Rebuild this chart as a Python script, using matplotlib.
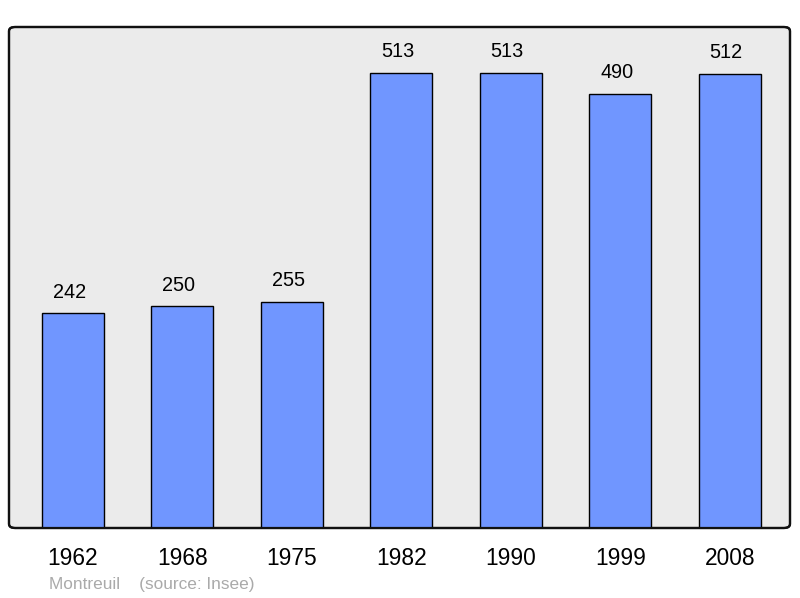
import matplotlib
matplotlib.use("Agg")
import matplotlib.pyplot as plt
from matplotlib.patches import FancyBboxPatch

years = ["1962", "1968", "1975", "1982", "1990", "1999", "2008"]
population = [242, 250, 255, 513, 513, 490, 512]

plt.rcParams['font.family'] = ['Liberation Sans', 'DejaVu Sans']

fig = plt.figure(figsize=(8, 5.98), dpi=100)
ax = fig.add_axes([9/800, 70/598, 781/800, 501/598])
ax.set_facecolor('none')

x = list(range(len(years)))
ax.bar(x, population, width=0.566, color='#7096ff', edgecolor='black', linewidth=1.0, zorder=3)
for xi, v in zip(x, population):
    ax.annotate(str(v), (xi, v), xytext=(-2.8, 8.5), textcoords='offset points',
                ha='center', va='bottom', fontsize=14.3, color='black')

ax.set_xlim(-0.584, 6.548)
ax.set_ylim(0, 565)
ax.set_yticks([])
ax.set_xticks(x)
ax.set_xticklabels(years, fontsize=16.4)
ax.tick_params(axis='x', length=0, pad=14)
for s in ax.spines.values():
    s.set_visible(False)

frame = FancyBboxPatch((0, 0), 1, 1, boxstyle="round,pad=0,rounding_size=0.008",
                       transform=ax.transAxes, facecolor='#ebebeb', edgecolor='#111111',
                       linewidth=1.6, zorder=0, clip_on=False)
ax.add_patch(frame)
frame2 = FancyBboxPatch((0, 0), 1, 1, boxstyle="round,pad=0,rounding_size=0.008",
                        transform=ax.transAxes, facecolor='none', edgecolor='#111111',
                        linewidth=1.6, zorder=5, clip_on=False)
ax.add_patch(frame2)

fig.text(49/800, 1 - 584/598, "Montreuil    (source: Insee)", fontsize=12.4,
         color='#aaaaaa', ha='left', va='center')

fig.savefig('out.png', dpi=100)
